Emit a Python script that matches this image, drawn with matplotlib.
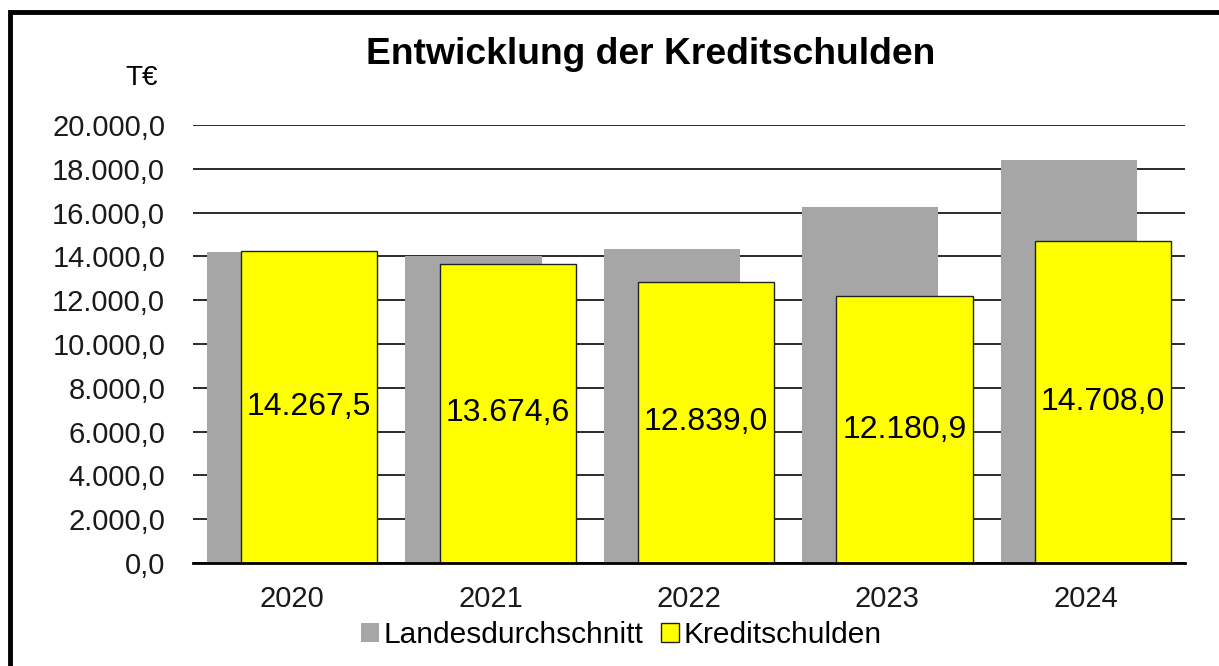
import numpy as np
import matplotlib.pyplot as plt
from matplotlib.patches import Rectangle

years = ["2020", "2021", "2022", "2023", "2024"]
landesdurchschnitt = [14200, 14020, 14350, 16270, 18390]
kreditschulden = [14267.5, 13674.6, 12839.0, 12180.9, 14708.0]

plt.rcParams['font.family'] = ['Liberation Sans', 'DejaVu Sans']


def de_fmt(v):
    s = "{:,.1f}".format(v)
    return s.replace(",", "X").replace(".", ",").replace("X", ".")


fig = plt.figure(figsize=(12.19, 6.66), dpi=100)
ax = fig.add_axes([193/1219, 1-563/666, (1185-193)/1219, (563-125)/666])

x = np.arange(len(years))
w = 0.687
off = 0.086
ax.bar(x - off, landesdurchschnitt, width=w, color='#a6a6a6', label='Landesdurchschnitt', zorder=2)
ax.bar(x + off, kreditschulden, width=w, color='#ffff00', edgecolor='#222222',
       linewidth=1.0, label='Kreditschulden', zorder=3)

for xi, v in zip(x, kreditschulden):
    ax.text(xi + off, v/2, de_fmt(v), ha='center', va='center', fontsize=23, zorder=4)

ax.set_xlim(-0.5, len(years) - 0.5)
ax.set_ylim(0, 20000)
ax.set_yticks(np.arange(0, 20001, 2000))
ax.set_yticklabels([de_fmt(t) for t in np.arange(0, 20001, 2000)], fontsize=21, color='#1a1a1a')
ax.set_xticks(x)
ax.set_xticklabels(years, fontsize=21, color='#1a1a1a')
ax.tick_params(axis='both', length=0)
ax.tick_params(axis='x', pad=16)
ax.tick_params(axis='y', pad=20)
ax.yaxis.grid(True, color='#2a2a2a', linewidth=1.4, zorder=1)
ax.set_axisbelow(True)
for s in ['left', 'right', 'top']:
    ax.spines[s].set_visible(False)
ax.spines['bottom'].set_linewidth(2)
ax.spines['bottom'].set_zorder(5)

fig.text(651/1219, 1-55/666, "Entwicklung der Kreditschulden", ha='center', va='center',
         fontsize=26.8, fontweight='bold')
fig.text(142/1219, 1-78/666, "T€", ha='center', va='center', fontsize=20)

fig.legend(loc='center', bbox_to_anchor=(621/1219, 1-635/666), ncol=2, frameon=False,
           fontsize=21.5, handlelength=0.6, handleheight=0.6, handletextpad=0.15,
           columnspacing=0.6)

fig.add_artist(Rectangle((10/1219, -0.1), 1.2, 1 - 12/666 + 0.1, transform=fig.transFigure,
                         fill=False, edgecolor='black', linewidth=3.5))

plt.savefig("out.png", dpi=100)
